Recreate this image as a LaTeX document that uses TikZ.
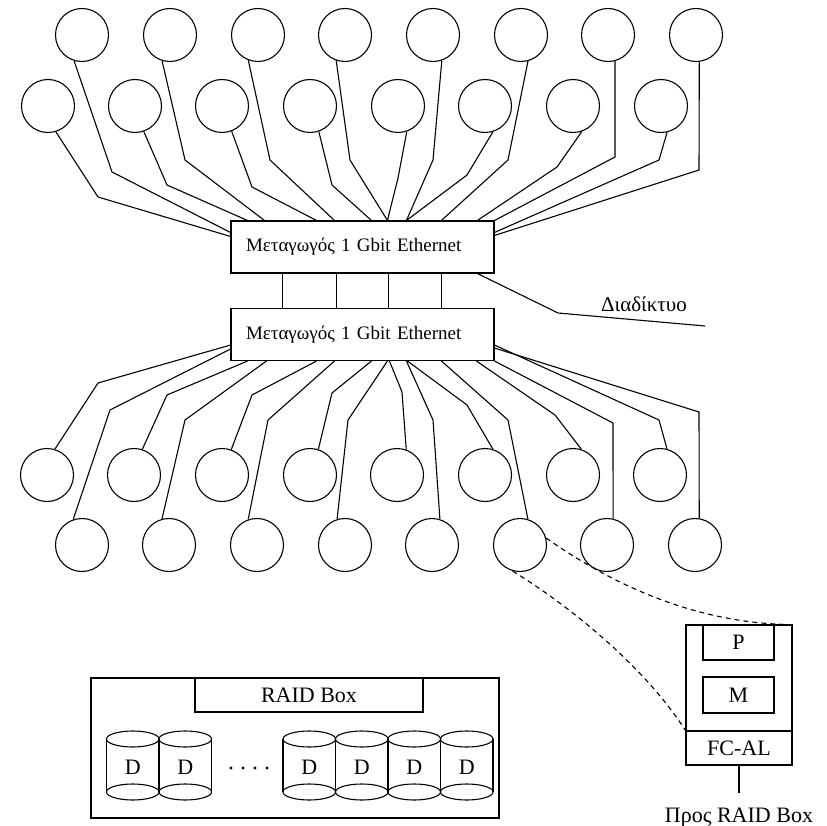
\documentclass[tikz,border=0pt]{standalone}
\usepackage{fontspec}
\setmainfont{Liberation Serif}
\begin{document}
\begin{tikzpicture}[x=1pt,y=-1pt,line width=1.1pt,
  pc/.style={circle,draw,minimum size=53pt,inner sep=0pt},
  sw/.style={draw,text width=233pt,inner xsep=15pt,minimum height=52pt,align=left,font=\fontsize{19}{23}\selectfont},
  box/.style={draw,inner sep=0pt},
  lbl/.style={font=\fontsize{22}{26}\selectfont},
  dashline/.style={dash pattern=on 5pt off 4pt}]
\useasboundingbox (0,0) rectangle (827,826);

% circles
\foreach \x [count=\i] in {82,170,258,345,433,521,608,696} \node[pc] (t\i) at (\x,35) {};
\foreach \x [count=\i] in {48,135,222,310,398,485,573,661} \node[pc] (u\i) at (\x,106) {};
\foreach \x [count=\i] in {47,134,222,310,397,485,573,660} \node[pc] (v\i) at (\x,475) {};
\foreach \x [count=\i] in {82,169,257,345,432,520,607,695} \node[pc] (w\i) at (\x,545) {};

% switches
\node[sw] (sw1) at (362.5,247) {Μεταγωγός 1 Gbit Ethernet};
\node[sw] (sw2) at (362.5,334.5) {Μεταγωγός 1 Gbit Ethernet};

\foreach \s in {52,106,158,211}
  \draw ([xshift=\s pt]sw1.south west) -- ([xshift=\s pt]sw2.north west);

% upper connectors
\foreach \c/\a/\bx/\by/\anc/\sx/\sy in {
  u1/-73/98/197/north west/0/-16,
  t1/-107/112/172/north west/0/-12,
  u2/-71/167/185/north west/17/0,
  t2/-107/185/160/north west/34/0,
  u3/-69/252/187/north west/86/0,
  t3/-111/270/160/north west/104/0,
  u4/-71/332/185/north west/141/0,
  t4/-109/350/160/north west/157/0,
  u5/-71/398/178/north west/157/0,
  t5/-71/433/160/north west/176/0,
  u6/-73/467/175/north west/176/0,
  t6/-75/508/160/north west/211/0,
  u7/-71/557/167/north west/247/0,
  t7/-75/615/157/north east/0/0,
  u8/-77/659/160/north east/0/-12,
  t8/-83/699/170/north east/0/-15}
  \draw (\c.\a) -- (\bx,\by) -- ([xshift=\sx pt,yshift=\sy pt]sw1.\anc);

% lower connectors
\foreach \c/\a/\bx/\by/\anc/\sx/\sy in {
  v1/73/98/383/south west/0/16,
  w1/109/110/410/south west/0/12,
  v2/72/167/395/south west/17/0,
  w2/105/185/420/south west/36/0,
  v3/70/252/395/south west/86/0,
  w3/109/268/420/south west/104/0,
  v4/72/332/393/south west/141/0,
  w4/107/348/420/south west/157/0,
  v5/70/402/392/south west/159/0,
  w5/73/433/420/south west/176/0,
  v6/73/467/405/south west/177/0,
  w6/73/508/420/south west/211/0,
  v7/72/555/415/south west/246/0,
  w7/77/613/423/south east/0/0,
  v8/75/659/420/south east/0/16,
  w8/81/699/412/south east/0/13}
  \draw (\c.\a) -- (\bx,\by) -- ([xshift=\sx pt,yshift=\sy pt]sw2.\anc);

% internet
\coordinate (inet) at (705,326);
\draw ([xshift=247pt]sw1.south west) -- (558,313) -- (inet);
\node[lbl,anchor=base,font=\fontsize{21}{25}\selectfont] (inettxt) at (644,311) {Διαδίκτυο};

% processor node
\node[box,minimum width=106pt,minimum height=140pt] (proc) at (739,695) {};
\node[box,minimum width=106pt,minimum height=34pt,lbl] (fcal) at (739,748) {FC-AL};
\node[box,minimum width=71pt,minimum height=35pt,lbl] (p) at (738.5,642.5) {P};
\node[box,minimum width=71pt,minimum height=36pt,lbl] (m) at (738.5,695) {M};
\node[lbl,anchor=base,inner sep=0pt] (toraid) at (739,822) {Προς RAID Box};
\draw (fcal.south) -- ([yshift=14pt]toraid.north);

\draw[dashline] (w6.15) .. controls (620,590) and (700,622) .. ([xshift=-7pt]proc.north east);
\draw[dashline] (w6.-106) .. controls (560,600) and (640,660) .. (fcal.north west);

% RAID box
\node[box,minimum width=408pt,minimum height=140pt] (raid) at (295,748) {};
\node[box,minimum width=228pt,minimum height=34pt,lbl] (raidlbl) at (309,695) {RAID Box};
\foreach \x [count=\i] in {132.75,185.25,309.25,361.75,414.25,466.75} {
  \draw (\x-26.25,739) -- (\x-26.25,792);
  \draw (\x+26.25,739) -- (\x+26.25,792);
  \draw (\x,739) ellipse [x radius=26.25, y radius=8];
  \draw (\x,792) ellipse [x radius=26.25, y radius=8];
  \node[lbl] (d\i) at (\x,767) {D};
}
\foreach \x in {231,243,255,267} \fill (\x,768) circle (1.6);
\end{tikzpicture}
\end{document}
